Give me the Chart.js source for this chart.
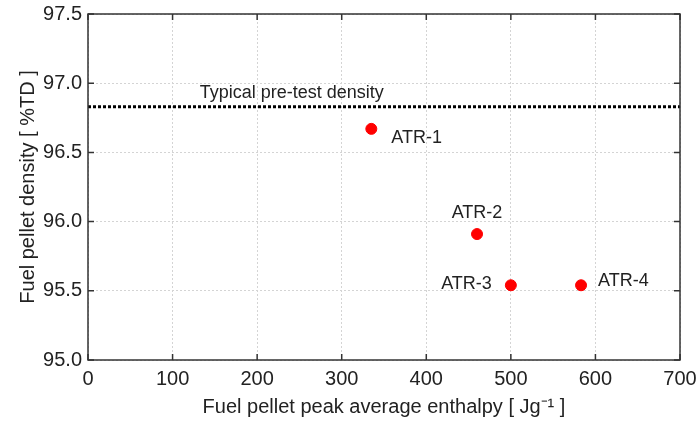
<!DOCTYPE html>
<html lang="en">
<head>
  <meta charset="UTF-8">
  <title>Fuel pellet density vs peak enthalpy</title>
  <script src="https://cdn.jsdelivr.net/npm/chart.js"></script>
  <style>
    html, body { margin: 0; padding: 0; background: #fff; }
    #wrap { width: 698px; height: 423px; }
  </style>
</head>
<body>
<div id="wrap"><canvas id="densityChart"></canvas></div>

<script>
  // measured tests
  const testNames = ['ATR-1', 'ATR-2', 'ATR-3', 'ATR-4'];
  const peakEnthalpy = [335, 460, 500, 583];
  const pelletDensity = [96.67, 95.91, 95.54, 95.54];

  // reference line
  const preTestDensity = 96.83;
  const preTestLabel = 'Typical pre-test density';

  const xTicks = [0, 100, 200, 300, 400, 500, 600, 700];
  const yTicks = [95.0, 95.5, 96.0, 96.5, 97.0, 97.5];

  const FONT = '"Liberation Sans", Arial, sans-serif';
  const INK = '#222';

  // where each point's name sits relative to its marker
  const labelPlace = [
    { dx: 20, dy: 9, align: 'left' },
    { dx: 0, dy: -21, align: 'center' },
    { dx: -19, dy: -1, align: 'right' },
    { dx: 17, dy: -4, align: 'left' }
  ];

  // box, inward ticks and text labels
  const decorations = {
    id: 'decorations',
    afterDatasetsDraw(chart) {
      const { ctx, chartArea: a, scales: { x, y } } = chart;
      ctx.save();

      ctx.strokeStyle = '#333';
      ctx.lineWidth = 1.5;
      ctx.strokeRect(a.left, a.top, a.right - a.left, a.bottom - a.top);

      ctx.beginPath();
      xTicks.forEach(v => {
        const px = x.getPixelForValue(v);
        ctx.moveTo(px, a.bottom); ctx.lineTo(px, a.bottom - 6);
        ctx.moveTo(px, a.top); ctx.lineTo(px, a.top + 6);
      });
      yTicks.forEach(v => {
        const py = y.getPixelForValue(v);
        ctx.moveTo(a.left, py); ctx.lineTo(a.left + 6, py);
        ctx.moveTo(a.right, py); ctx.lineTo(a.right - 6, py);
      });
      ctx.stroke();

      ctx.fillStyle = INK;
      ctx.font = '18px ' + FONT;
      ctx.textBaseline = 'middle';
      testNames.forEach((name, i) => {
        const p = labelPlace[i];
        ctx.textAlign = p.align;
        ctx.fillText(name, x.getPixelForValue(peakEnthalpy[i]) + p.dx,
                     y.getPixelForValue(pelletDensity[i]) + p.dy);
      });

      ctx.textAlign = 'left';
      ctx.textBaseline = 'alphabetic';
      ctx.fillText(preTestLabel, x.getPixelForValue(132), y.getPixelForValue(preTestDensity) - 9);

      ctx.restore();
    }
  };

  new Chart(document.getElementById('densityChart'), {
    type: 'scatter',
    data: {
      datasets: [
        {
          type: 'line',
          data: [{ x: xTicks[0], y: preTestDensity }, { x: xTicks[xTicks.length - 1], y: preTestDensity }],
          borderColor: '#000',
          borderWidth: 3,
          borderDash: [3, 2],
          pointRadius: 0,
          fill: false
        },
        {
          data: peakEnthalpy.map((v, i) => ({ x: v, y: pelletDensity[i] })),
          backgroundColor: '#ff0000',
          borderColor: '#ff0000',
          pointRadius: 5.5,
          pointHoverRadius: 5.5
        }
      ]
    },
    options: {
      responsive: true,
      maintainAspectRatio: false,
      animation: false,
      layout: { padding: { left: 12, right: 18, top: 14, bottom: 0 } },
      plugins: {
        legend: { display: false },
        tooltip: { enabled: false }
      },
      scales: {
        x: {
          type: 'linear',
          min: 0,
          max: 700,
          afterFit(s) { s.height = 63; s.paddingLeft = 0; s.paddingRight = 0; },
          afterBuildTicks(s) { s.ticks = xTicks.map(v => ({ value: v })); },
          grid: { color: '#d4d4d4', lineWidth: 1, drawTicks: false },
          border: { display: false, dash: [2, 2] },
          ticks: { color: INK, font: { family: FONT, size: 20 }, padding: 7, maxRotation: 0 },
          title: {
            display: true,
            text: 'Fuel pellet peak average enthalpy [ Jg\u207B\u00B9 ]',
            color: INK,
            font: { family: FONT, size: 20 },
            padding: { top: 0 }
          }
        },
        y: {
          min: 95.0,
          max: 97.5,
          afterFit(s) { s.width = 76; s.paddingTop = 0; s.paddingBottom = 0; },
          afterBuildTicks(s) { s.ticks = yTicks.map(v => ({ value: v })); },
          grid: { color: '#d4d4d4', lineWidth: 1, drawTicks: false },
          border: { display: false, dash: [2, 2] },
          ticks: {
            color: INK,
            font: { family: FONT, size: 20 },
            padding: 6,
            callback: v => v.toFixed(1)
          },
          title: {
            display: true,
            text: 'Fuel pellet density [ %TD ]',
            color: INK,
            font: { family: FONT, size: 20 },
            padding: { bottom: 4 }
          }
        }
      }
    },
    plugins: [decorations]
  });
</script>
</body>
</html>
